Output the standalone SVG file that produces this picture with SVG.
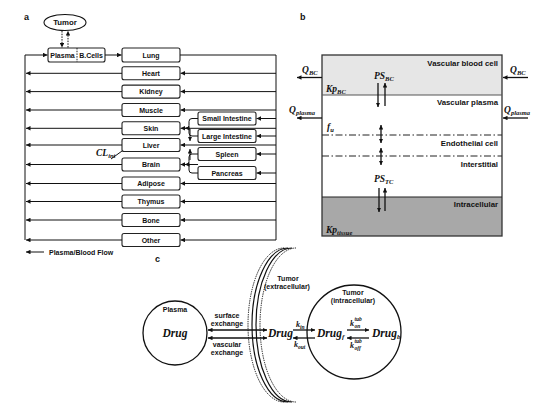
<svg xmlns="http://www.w3.org/2000/svg" width="550" height="413" viewBox="0 0 550 413">
<style>
.bx{fill:#fff;stroke:#222;stroke-width:1.1}
.ln{fill:none;stroke:#111;stroke-width:1}
.lt{font-family:"Liberation Sans",Arial,sans-serif;font-weight:bold;font-size:7px;fill:#111}
.lb{font-family:"Liberation Sans",Arial,sans-serif;font-weight:bold;font-size:7.8px;fill:#111}
.pl{font-family:"Liberation Sans",Arial,sans-serif;font-weight:bold;font-size:9px;fill:#111}
.m{font-family:"Liberation Serif","Times New Roman",serif;font-weight:bold;font-style:italic;font-size:9.5px;fill:#111}
.s{font-size:6.5px}
.d{font-family:"Liberation Serif","Times New Roman",serif;font-weight:bold;font-style:italic;font-size:11.5px;fill:#111}
.k{font-family:"Liberation Serif","Times New Roman",serif;font-weight:bold;font-style:italic;font-size:8px;fill:#111}
.ks{font-family:"Liberation Serif","Times New Roman",serif;font-weight:bold;font-style:italic;font-size:5.5px;fill:#111}
.a{fill:none;stroke:#111;stroke-width:1;marker-end:url(#ah)}
.a2{fill:none;stroke:#111;stroke-width:1.3;marker-end:url(#ah)}
.dd{fill:none;stroke:#111;stroke-width:1.3;marker-end:url(#ah);marker-start:url(#ah)}
.dot{fill:none;stroke:#111;stroke-width:1;stroke-dasharray:1.5,1.2}
.dash{fill:none;stroke:#222;stroke-width:1;stroke-dasharray:7,2.5,1.5,2.5}
</style>
<defs>
<marker id="ah" viewBox="0 0 6 6" refX="6" refY="3" markerWidth="4.5" markerHeight="4.5" markerUnits="userSpaceOnUse" orient="auto-start-reverse">
<path d="M0,0 L6,3 L0,6 z" fill="#111"/>
</marker>
</defs>

<!-- Panel labels -->
<text class="pl" x="24" y="20">a</text>
<text class="pl" x="300" y="20">b</text>
<text class="pl" x="155" y="262">c</text>

<!-- Panel a nodes -->
<g id="tumor-a">
<ellipse cx="65" cy="22.5" rx="21" ry="8" fill="#fff" stroke="#111" stroke-width="1.1"/>
<text class="lb" x="65" y="22.5" text-anchor="middle" dominant-baseline="central">Tumor</text>
</g>
<g id="plasma-bcells">
<rect class="bx" x="48" y="48" width="57" height="14" rx="2"/>
<line x1="77" y1="48" x2="77" y2="62" stroke="#111" stroke-width="0.9" stroke-dasharray="1.5,1.2"/>
<text class="lt" x="62.5" y="55" text-anchor="middle" dominant-baseline="central">Plasma</text>
<text class="lt" x="91" y="55" text-anchor="middle" dominant-baseline="central">B.Cells</text>
</g>
<g id="lung"><rect class="bx" x="122" y="48" width="58" height="14" rx="2"/><text class="lt" x="151" y="55" text-anchor="middle" dominant-baseline="central">Lung</text></g>
<g id="heart"><rect class="bx" x="122" y="66.8" width="58" height="13" rx="2"/><text class="lt" x="151" y="73.3" text-anchor="middle" dominant-baseline="central">Heart</text></g>
<g id="kidney"><rect class="bx" x="122" y="85.1" width="58" height="13" rx="2"/><text class="lt" x="151" y="91.6" text-anchor="middle" dominant-baseline="central">Kidney</text></g>
<g id="muscle"><rect class="bx" x="122" y="103.5" width="58" height="13" rx="2"/><text class="lt" x="151" y="110" text-anchor="middle" dominant-baseline="central">Muscle</text></g>
<g id="skin"><rect class="bx" x="122" y="121.8" width="58" height="13" rx="2"/><text class="lt" x="151" y="128.3" text-anchor="middle" dominant-baseline="central">Skin</text></g>
<g id="liver"><rect class="bx" x="122" y="138.5" width="58" height="13" rx="2"/><text class="lt" x="151" y="145" text-anchor="middle" dominant-baseline="central">Liver</text></g>
<g id="brain"><rect class="bx" x="122" y="158" width="58" height="13" rx="2"/><text class="lt" x="151" y="164.5" text-anchor="middle" dominant-baseline="central">Brain</text></g>
<g id="adipose"><rect class="bx" x="122" y="177" width="58" height="13" rx="2"/><text class="lt" x="151" y="183.5" text-anchor="middle" dominant-baseline="central">Adipose</text></g>
<g id="thymus"><rect class="bx" x="122" y="195" width="58" height="13" rx="2"/><text class="lt" x="151" y="201.5" text-anchor="middle" dominant-baseline="central">Thymus</text></g>
<g id="bone"><rect class="bx" x="122" y="213.5" width="58" height="13" rx="2"/><text class="lt" x="151" y="220" text-anchor="middle" dominant-baseline="central">Bone</text></g>
<g id="other"><rect class="bx" x="122" y="233.5" width="58" height="13" rx="2"/><text class="lt" x="151" y="240" text-anchor="middle" dominant-baseline="central">Other</text></g>
<g id="small-intestine"><rect class="bx" x="198" y="112" width="58" height="13" rx="2"/><text class="lt" x="227" y="118.5" text-anchor="middle" dominant-baseline="central">Small Intestine</text></g>
<g id="large-intestine"><rect class="bx" x="198" y="129.5" width="58" height="13" rx="2"/><text class="lt" x="227" y="136" text-anchor="middle" dominant-baseline="central">Large Intestine</text></g>
<g id="spleen"><rect class="bx" x="198" y="147.5" width="58" height="13" rx="2"/><text class="lt" x="227" y="154" text-anchor="middle" dominant-baseline="central">Spleen</text></g>
<g id="pancreas"><rect class="bx" x="198" y="166.5" width="58" height="13" rx="2"/><text class="lt" x="227" y="173" text-anchor="middle" dominant-baseline="central">Pancreas</text></g>

<!-- Panel a connectors -->
<g id="connectors-a">
<line class="dot" x1="62" y1="31" x2="62" y2="47.5" marker-end="url(#ah)"/>
<line class="dot" x1="68" y1="47.5" x2="68" y2="31" marker-end="url(#ah)"/>
<polyline class="ln" points="25,240 25,55 47.5,55" marker-end="url(#ah)"/>
<line class="a" x1="105" y1="55" x2="121.5" y2="55"/>
<polyline class="ln" points="180,55 276,55 276,240"/>
<!-- right line into organs -->
<line class="a" x1="276" y1="73.3" x2="180.5" y2="73.3"/>
<line class="a" x1="276" y1="91.6" x2="180.5" y2="91.6"/>
<line class="a" x1="276" y1="110" x2="180.5" y2="110"/>
<line class="a" x1="276" y1="128.3" x2="180.5" y2="128.3"/>
<line class="a" x1="276" y1="145" x2="180.5" y2="145"/>
<line class="a" x1="198" y1="164.5" x2="180.5" y2="164.5"/>
<line class="a" x1="276" y1="183.5" x2="180.5" y2="183.5"/>
<line class="a" x1="276" y1="201.5" x2="180.5" y2="201.5"/>
<line class="a" x1="276" y1="220" x2="180.5" y2="220"/>
<line class="a" x1="276" y1="240" x2="180.5" y2="240"/>
<line class="a" x1="276" y1="118.5" x2="256.5" y2="118.5"/>
<line class="a" x1="276" y1="136" x2="256.5" y2="136"/>
<line class="a" x1="276" y1="154" x2="256.5" y2="154"/>
<line class="a" x1="276" y1="173" x2="256.5" y2="173"/>
<!-- second arrowheads at skin and brain -->
<line class="a" x1="190" y1="128.3" x2="185" y2="128.3"/>
<line class="a" x1="190" y1="164.5" x2="185" y2="164.5"/>
<!-- GI collectors -->
<path class="ln" d="M198,118.5 H192 Q189,118.5 189,121.5 V125.3 Q189,128.3 186,128.3 M189,128.3 V133 Q189,136 192,136 H198"/>
<path class="ln" d="M198,154 H192 Q189,154 189,157 V161.5 Q189,164.5 186,164.5 M189,164.5 V170 Q189,173 192,173 H198"/>
<line class="a" x1="190" y1="129" x2="190" y2="141"/>
<line class="a" x1="190" y1="160" x2="190" y2="149"/>
<!-- organs to left line -->
<line class="a" x1="122" y1="73.3" x2="26" y2="73.3"/>
<line class="a" x1="122" y1="91.6" x2="26" y2="91.6"/>
<line class="a" x1="122" y1="110" x2="26" y2="110"/>
<line class="a" x1="122" y1="128.3" x2="26" y2="128.3"/>
<line class="a" x1="122" y1="145" x2="26" y2="145"/>
<line class="a" x1="122" y1="164.5" x2="26" y2="164.5"/>
<line class="a" x1="122" y1="183.5" x2="26" y2="183.5"/>
<line class="a" x1="122" y1="201.5" x2="26" y2="201.5"/>
<line class="a" x1="122" y1="220" x2="26" y2="220"/>
<line class="a" x1="122" y1="240" x2="26" y2="240"/>
<!-- CL_int -->
<line class="ln" x1="111" y1="159" x2="122" y2="151"/>
<!-- legend -->
<line class="a" x1="44" y1="252" x2="26" y2="252"/>
</g>
<text class="m" x="96" y="156">CL<tspan class="s" dy="2">int</tspan></text>
<text class="lt" x="49" y="252" dominant-baseline="central">Plasma/Blood Flow</text>

<!-- Panel b -->
<g id="tissue-compartment">
<rect x="322" y="55" width="180" height="40" fill="#e6e6e6"/>
<rect x="322" y="197" width="180" height="39" fill="#a8a8a8"/>
<rect x="322" y="55" width="180" height="181" fill="none" stroke="#333" stroke-width="1.3"/>
<line x1="322" y1="95" x2="502" y2="95" stroke="#555" stroke-width="1"/>
<line x1="322" y1="197" x2="502" y2="197" stroke="#222" stroke-width="1.2"/>
<line class="dash" x1="322" y1="135" x2="502" y2="135"/>
<line class="dash" x1="322" y1="156" x2="502" y2="156"/>
<text class="lb" x="498" y="63" text-anchor="end" dominant-baseline="central">Vascular blood cell</text>
<text class="lb" x="498" y="102" text-anchor="end" dominant-baseline="central">Vascular plasma</text>
<text class="lb" x="498" y="143" text-anchor="end" dominant-baseline="central">Endothelial cell</text>
<text class="lb" x="498" y="164" text-anchor="end" dominant-baseline="central">Interstitial</text>
<text class="lb" x="498" y="204" text-anchor="end" dominant-baseline="central">Intracellular</text>
<text class="m" x="326" y="92">Kp<tspan class="s" dy="2">BC</tspan></text>
<text class="m" x="374" y="79">PS<tspan class="s" dy="2">BC</tspan></text>
<text class="m" x="327" y="130">f<tspan class="s" dy="2">u</tspan></text>
<text class="m" x="374" y="182">PS<tspan class="s" dy="2">TC</tspan></text>
<text class="m" x="326" y="233">Kp<tspan class="s" dy="2">tissue</tspan></text>
</g>
<g id="connectors-b">
<line class="a2" x1="378" y1="83" x2="378" y2="107"/>
<line class="a2" x1="385" y1="106" x2="385" y2="83"/>
<line class="dd" x1="381" y1="125" x2="381" y2="143"/>
<line class="dd" x1="381" y1="148" x2="381" y2="165"/>
<line class="a2" x1="379" y1="188" x2="379" y2="212"/>
<line class="a2" x1="385" y1="211" x2="385" y2="188"/>
<line class="a2" x1="322" y1="77.5" x2="297" y2="77.5"/>
<line class="a2" x1="322" y1="118" x2="297" y2="118"/>
<line class="a2" x1="528" y1="77.5" x2="503" y2="77.5"/>
<line class="a2" x1="528" y1="118" x2="503" y2="118"/>
</g>
<text class="m" x="302" y="73">Q<tspan class="s" dy="2">BC</tspan></text>
<text class="m" x="289" y="113">Q<tspan class="s" dy="2">plasma</tspan></text>
<text class="m" x="510" y="73">Q<tspan class="s" dy="2">BC</tspan></text>
<text class="m" x="504" y="113">Q<tspan class="s" dy="2">plasma</tspan></text>

<!-- Panel c -->
<g id="plasma-c">
<circle cx="175" cy="333" r="32" fill="#fff" stroke="#111" stroke-width="1.3"/>
<text class="lt" x="175" y="309" text-anchor="middle" dominant-baseline="central">Plasma</text>
<text class="d" x="175" y="337" text-anchor="middle">Drug</text>
</g>
<g id="tumor-extracellular">
<path d="M284,248 A36,77 0 0 0 284,402" fill="none" stroke="#111" stroke-width="1" stroke-dasharray="1.3,1"/>
<path d="M288,248 A36,77 0 0 0 288,402" fill="none" stroke="#111" stroke-width="1.2"/>
<path d="M292,248 A36,77 0 0 0 292,402" fill="none" stroke="#111" stroke-width="1.2"/>
<path d="M296,248 A36,77 0 0 0 296,402" fill="none" stroke="#111" stroke-width="1" stroke-dasharray="1.3,1"/>
<text class="lt" x="288" y="278" text-anchor="middle" dominant-baseline="central" font-size="6.5">Tumor</text>
<text class="lt" x="287" y="286" text-anchor="middle" dominant-baseline="central" font-size="6.5">(extracellular)</text>
<text class="d" x="268" y="337">Drug</text>
</g>
<g id="tumor-intracellular">
<circle cx="354" cy="332" r="47" fill="none" stroke="#111" stroke-width="1.3"/>
<text class="lt" x="353" y="292" text-anchor="middle" dominant-baseline="central" font-size="6.5">Tumor</text>
<text class="lt" x="353" y="300" text-anchor="middle" dominant-baseline="central" font-size="6.5">(intracellular)</text>
<text class="d" x="317" y="337">Drug<tspan font-size="7" dy="2">f</tspan></text>
<text class="d" x="372" y="337">Drug<tspan font-size="7" dy="2">b</tspan></text>
</g>
<g id="connectors-c">
<line class="dd" x1="208" y1="330" x2="267" y2="330"/>
<line class="dd" x1="208" y1="338" x2="267" y2="338"/>
<line class="a2" x1="293" y1="330" x2="315" y2="330"/>
<line class="a2" x1="315" y1="338" x2="293" y2="338"/>
<line class="a2" x1="347" y1="330" x2="369" y2="330"/>
<line class="a2" x1="369" y1="338" x2="347" y2="338"/>
</g>
<text class="lt" x="227" y="315" text-anchor="middle" dominant-baseline="central" font-size="6.5">surface</text>
<text class="lt" x="227" y="323" text-anchor="middle" dominant-baseline="central" font-size="6.5">exchange</text>
<text class="lt" x="227" y="344" text-anchor="middle" dominant-baseline="central" font-size="6.5">vascular</text>
<text class="lt" x="227" y="352" text-anchor="middle" dominant-baseline="central" font-size="6.5">exchange</text>
<text class="k" x="296" y="327">k<tspan class="ks" dy="1.5">in</tspan></text>
<text class="k" x="294" y="347">k<tspan class="ks" dy="1.5">out</tspan></text>
<text class="k" x="350" y="326">k</text>
<text class="ks" x="354.5" y="321">tub</text>
<text class="ks" x="354.5" y="328">on</text>
<text class="k" x="350" y="348">k</text>
<text class="ks" x="354.5" y="343">tub</text>
<text class="ks" x="354.5" y="350">off</text>
</svg>
